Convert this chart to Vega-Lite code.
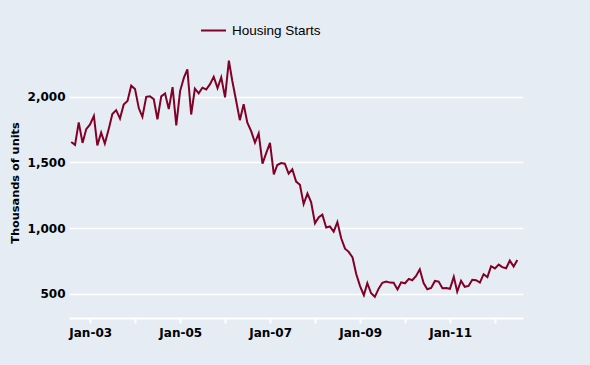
{
  "$schema": "https://vega.github.io/schema/vega-lite/v6.json",
  "width": 454,
  "height": 274,
  "autosize": {"type": "none"},
  "padding": {"left": 69, "top": 44, "right": 67, "bottom": 47},
  "background": "#E5ECF3",
  "config": {"view": {"stroke": null}, "font": "DejaVu Sans"},
  "data": {
    "values": [
      {"date": "2002-07-31", "starts": 1655}, {"date": "2002-08-31", "starts": 1633}, {"date": "2002-09-30", "starts": 1804},
      {"date": "2002-10-31", "starts": 1648}, {"date": "2002-11-30", "starts": 1753}, {"date": "2002-12-31", "starts": 1788},
      {"date": "2003-01-31", "starts": 1853}, {"date": "2003-02-28", "starts": 1629}, {"date": "2003-03-31", "starts": 1726},
      {"date": "2003-04-30", "starts": 1643}, {"date": "2003-05-31", "starts": 1751}, {"date": "2003-06-30", "starts": 1867},
      {"date": "2003-07-31", "starts": 1897}, {"date": "2003-08-31", "starts": 1833}, {"date": "2003-09-30", "starts": 1939},
      {"date": "2003-10-31", "starts": 1967}, {"date": "2003-11-30", "starts": 2083}, {"date": "2003-12-31", "starts": 2057},
      {"date": "2004-01-31", "starts": 1911}, {"date": "2004-02-29", "starts": 1846}, {"date": "2004-03-31", "starts": 1998},
      {"date": "2004-04-30", "starts": 2003}, {"date": "2004-05-31", "starts": 1981}, {"date": "2004-06-30", "starts": 1828},
      {"date": "2004-07-31", "starts": 2002}, {"date": "2004-08-31", "starts": 2024}, {"date": "2004-09-30", "starts": 1905},
      {"date": "2004-10-31", "starts": 2072}, {"date": "2004-11-30", "starts": 1782}, {"date": "2004-12-31", "starts": 2042},
      {"date": "2005-01-31", "starts": 2144}, {"date": "2005-02-28", "starts": 2207}, {"date": "2005-03-31", "starts": 1864},
      {"date": "2005-04-30", "starts": 2061}, {"date": "2005-05-31", "starts": 2025}, {"date": "2005-06-30", "starts": 2068},
      {"date": "2005-07-31", "starts": 2054}, {"date": "2005-08-31", "starts": 2095}, {"date": "2005-09-30", "starts": 2151},
      {"date": "2005-10-31", "starts": 2065}, {"date": "2005-11-30", "starts": 2147}, {"date": "2005-12-31", "starts": 1994},
      {"date": "2006-01-31", "starts": 2273}, {"date": "2006-02-28", "starts": 2119}, {"date": "2006-03-31", "starts": 1969},
      {"date": "2006-04-30", "starts": 1821}, {"date": "2006-05-31", "starts": 1942}, {"date": "2006-06-30", "starts": 1802},
      {"date": "2006-07-31", "starts": 1737}, {"date": "2006-08-31", "starts": 1650}, {"date": "2006-09-30", "starts": 1720},
      {"date": "2006-10-31", "starts": 1491}, {"date": "2006-11-30", "starts": 1570}, {"date": "2006-12-31", "starts": 1649},
      {"date": "2007-01-31", "starts": 1409}, {"date": "2007-02-28", "starts": 1480}, {"date": "2007-03-31", "starts": 1495},
      {"date": "2007-04-30", "starts": 1490}, {"date": "2007-05-31", "starts": 1415}, {"date": "2007-06-30", "starts": 1448},
      {"date": "2007-07-31", "starts": 1354}, {"date": "2007-08-31", "starts": 1330}, {"date": "2007-09-30", "starts": 1183},
      {"date": "2007-10-31", "starts": 1264}, {"date": "2007-11-30", "starts": 1197}, {"date": "2007-12-31", "starts": 1037},
      {"date": "2008-01-31", "starts": 1084}, {"date": "2008-02-29", "starts": 1103}, {"date": "2008-03-31", "starts": 1005},
      {"date": "2008-04-30", "starts": 1013}, {"date": "2008-05-31", "starts": 973}, {"date": "2008-06-30", "starts": 1046},
      {"date": "2008-07-31", "starts": 923}, {"date": "2008-08-31", "starts": 844}, {"date": "2008-09-30", "starts": 820},
      {"date": "2008-10-31", "starts": 777}, {"date": "2008-11-30", "starts": 652}, {"date": "2008-12-31", "starts": 560},
      {"date": "2009-01-31", "starts": 490}, {"date": "2009-02-28", "starts": 582}, {"date": "2009-03-31", "starts": 505},
      {"date": "2009-04-30", "starts": 478}, {"date": "2009-05-31", "starts": 540}, {"date": "2009-06-30", "starts": 585},
      {"date": "2009-07-31", "starts": 594}, {"date": "2009-08-31", "starts": 586}, {"date": "2009-09-30", "starts": 585},
      {"date": "2009-10-31", "starts": 534}, {"date": "2009-11-30", "starts": 588}, {"date": "2009-12-31", "starts": 581},
      {"date": "2010-01-31", "starts": 614}, {"date": "2010-02-28", "starts": 604}, {"date": "2010-03-31", "starts": 636},
      {"date": "2010-04-30", "starts": 687}, {"date": "2010-05-31", "starts": 583}, {"date": "2010-06-30", "starts": 536},
      {"date": "2010-07-31", "starts": 546}, {"date": "2010-08-31", "starts": 599}, {"date": "2010-09-30", "starts": 594},
      {"date": "2010-10-31", "starts": 543}, {"date": "2010-11-30", "starts": 545}, {"date": "2010-12-31", "starts": 539},
      {"date": "2011-01-31", "starts": 630}, {"date": "2011-02-28", "starts": 517}, {"date": "2011-03-31", "starts": 600},
      {"date": "2011-04-30", "starts": 554}, {"date": "2011-05-31", "starts": 561}, {"date": "2011-06-30", "starts": 608},
      {"date": "2011-07-31", "starts": 604}, {"date": "2011-08-31", "starts": 586}, {"date": "2011-09-30", "starts": 650},
      {"date": "2011-10-31", "starts": 628}, {"date": "2011-11-30", "starts": 711}, {"date": "2011-12-31", "starts": 694},
      {"date": "2012-01-31", "starts": 723}, {"date": "2012-02-29", "starts": 704}, {"date": "2012-03-31", "starts": 695},
      {"date": "2012-04-30", "starts": 753}, {"date": "2012-05-31", "starts": 708}, {"date": "2012-06-30", "starts": 757}
    ]
  },
  "mark": {"type": "line", "strokeWidth": 2},
  "encoding": {
    "x": {
      "field": "date",
      "type": "temporal",
      "scale": {
        "type": "utc",
        "domain": [
          {"year": 2002, "month": 7, "date": 13, "utc": true},
          {"year": 2012, "month": 8, "date": 15, "utc": true}
        ]
      },
      "axis": {
        "title": null,
        "grid": false,
        "values": [
          {"year": 2003, "month": 1, "date": 1, "utc": true},
          {"year": 2004, "month": 1, "date": 1, "utc": true},
          {"year": 2005, "month": 1, "date": 1, "utc": true},
          {"year": 2006, "month": 1, "date": 1, "utc": true},
          {"year": 2007, "month": 1, "date": 1, "utc": true},
          {"year": 2008, "month": 1, "date": 1, "utc": true},
          {"year": 2009, "month": 1, "date": 1, "utc": true},
          {"year": 2010, "month": 1, "date": 1, "utc": true},
          {"year": 2011, "month": 1, "date": 1, "utc": true},
          {"year": 2012, "month": 1, "date": 1, "utc": true}
        ],
        "labelExpr": "utcyear(datum.value) % 2 == 1 ? utcFormat(datum.value, '%b-%y') : ''",
        "domainColor": "#FFFFFF",
        "domainWidth": 2,
        "tickColor": "#FFFFFF",
        "tickWidth": 2,
        "tickSize": 5,
        "labelFont": "DejaVu Sans",
        "labelFontWeight": "bold",
        "labelFontSize": 12,
        "labelColor": "#000000",
        "labelPadding": 4,
        "labelOverlap": false
      }
    },
    "y": {
      "field": "starts",
      "type": "quantitative",
      "scale": {"domain": [317, 2400], "nice": false, "zero": false},
      "axis": {
        "title": "Thousands of units",
        "values": [500, 1000, 1500, 2000],
        "format": ",.0f",
        "domain": false,
        "ticks": false,
        "tickSize": 0,
        "gridColor": "#FFFFFF",
        "gridWidth": 1.3,
        "gridOpacity": 1,
        "labelFont": "DejaVu Sans",
        "labelFontWeight": "bold",
        "labelFontSize": 12,
        "labelColor": "#000000",
        "labelPadding": 4,
        "titleFont": "DejaVu Sans",
        "titleFontWeight": "bold",
        "titleFontSize": 11.3,
        "titleColor": "#000000",
        "titleAngle": -90,
        "titleAlign": "center",
        "titleBaseline": "alphabetic",
        "titleX": -50.7,
        "titleY": 138.5
      }
    },
    "color": {
      "datum": "Housing Starts",
      "scale": {"domain": ["Housing Starts"], "range": ["#800026"]},
      "legend": {
        "orient": "none",
        "legendX": 131,
        "legendY": -27,
        "title": null,
        "symbolType": "stroke",
        "symbolSize": 625,
        "symbolStrokeWidth": 2,
        "labelFont": "Liberation Sans",
        "labelFontSize": 13.5,
        "labelColor": "#000000",
        "labelOffset": 5
      }
    }
  }
}
